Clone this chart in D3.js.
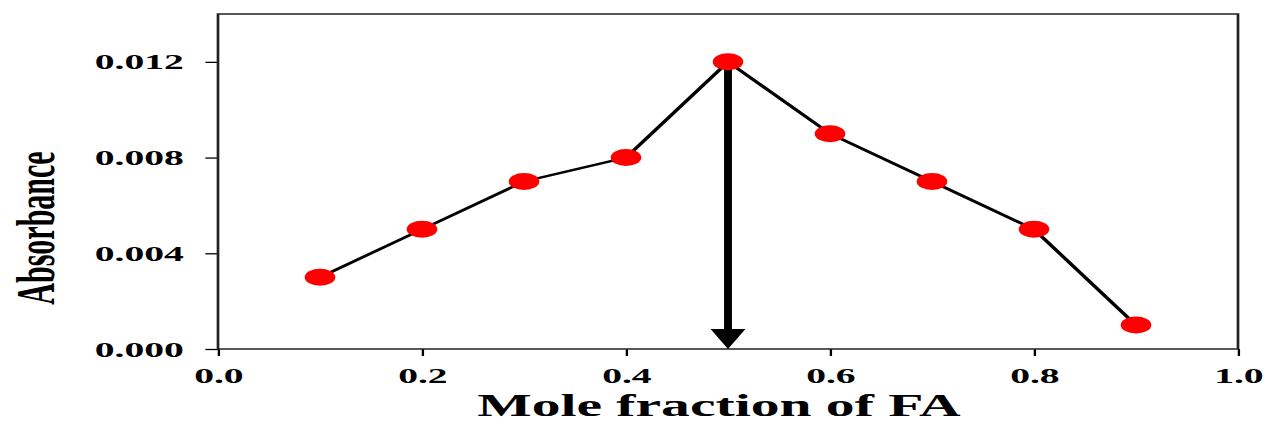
<!DOCTYPE html>
<html>
<head>
<meta charset="utf-8">
<script src="https://cdn.jsdelivr.net/npm/d3@7"></script>
<style>
  body { margin: 0; background: #fff; }
</style>
</head>
<body>
<script>
//Job's plot data: mole fraction vs absorbance
var moleFractions = [0.1, 0.2, 0.3, 0.4, 0.5, 0.6, 0.7, 0.8, 0.9];
var absorbances = [0.003, 0.005, 0.007, 0.008, 0.012, 0.009, 0.007, 0.005, 0.001];
var xTicks = [0.0, 0.2, 0.4, 0.6, 0.8, 1.0];
var yTicks = [0.000, 0.004, 0.008, 0.012];
var peakFraction = 0.5;
var peakAbsorbance = 0.012;

var width = 1268;
var height = 424;

//The original picture is stretched sideways, so we draw everything
//inside a group that is scaled along x only
var stretch = 1.8;
var margin = { top: 14, right: 30 / stretch, bottom: 75, left: 218 / stretch };
var innerW = width / stretch - margin.left - margin.right;
var innerH = height - margin.top - margin.bottom;

var svg = d3.select('body')
    .append('svg')
    .attr('width', width)
    .attr('height', height)
    .append('g')
    .attr('transform', 'scale(' + stretch + ',1) translate(' + margin.left + ',' + margin.top + ')');

var x = d3.scaleLinear().domain([0, 1]).range([0, innerW]);
var y = d3.scaleLinear().domain([0, 0.014]).range([innerH, 0]);

var font = '"Liberation Serif", "Times New Roman", serif';

//x axis
var xAxis = svg.append('g')
    .attr('transform', 'translate(0,' + innerH + ')')
    .call(d3.axisBottom(x).tickValues(xTicks).tickFormat(d3.format('.1f')).tickSize(7).tickPadding(11));

//y axis
var yAxis = svg.append('g')
    .call(d3.axisLeft(y).tickValues(yTicks).tickFormat(d3.format('.3f')).tickSize(7).tickPadding(12));

[xAxis, yAxis].forEach(function(a) {
    a.select('.domain').remove();
    a.selectAll('line').attr('stroke', '#000').attr('stroke-width', 1.3);
    a.selectAll('text')
      .attr('fill', '#000')
      .style('font-family', font)
      .style('font-weight', 'bold')
      .style('font-size', '22px');
});

//frame round the plot
svg.append('rect')
    .attr('width', innerW)
    .attr('height', innerH)
    .attr('fill', 'none')
    .attr('stroke', '#222')
    .attr('stroke-width', 1.5);

//arrow from the peak down to the x axis
var headH = 20, headW = 9.7;
svg.append('line')
    .attr('x1', x(peakFraction))
    .attr('x2', x(peakFraction))
    .attr('y1', y(peakAbsorbance))
    .attr('y2', y(0) - headH + 1)
    .attr('stroke', '#000')
    .attr('stroke-width', 4.4);

svg.append('path')
    .attr('d', 'M' + (x(peakFraction) - headW) + ',' + (y(0) - headH) +
               'L' + (x(peakFraction) + headW) + ',' + (y(0) - headH) +
               'L' + x(peakFraction) + ',' + y(0) + 'Z')
    .attr('fill', '#000');

var points = moleFractions.map(function(f, i) {
    return { fraction: f, absorbance: absorbances[i] };
});

var line = d3.line()
    .x(function(d) { return x(d.fraction); })
    .y(function(d) { return y(d.absorbance); });

svg.append('path')
    .datum(points)
    .attr('d', line)
    .attr('fill', 'none')
    .attr('stroke', '#000')
    .attr('stroke-width', 2.4);

svg.selectAll('.dot')
    .data(points)
    .enter().append('circle')
    .attr('class', 'dot')
    .attr('cx', function(d) { return x(d.fraction); })
    .attr('cy', function(d) { return y(d.absorbance); })
    .attr('r', 8.5)
    .attr('fill', '#ff0000');

//axis titles
svg.append('text')
    .attr('x', innerW / 2 - 5)
    .attr('y', innerH + 67)
    .attr('text-anchor', 'middle')
    .style('font-family', font)
    .style('font-weight', 'bold')
    .style('font-size', '32px')
    .text('Mole fraction of FA');

svg.append('text')
    .attr('transform', 'translate(' + (54 / stretch - margin.left) + ',' + 214 + ') rotate(-90)')
    .attr('text-anchor', 'middle')
    .style('font-family', font)
    .style('font-weight', 'bold')
    .style('font-size', '30px')
    .text('Absorbance');
</script>
</body>
</html>
